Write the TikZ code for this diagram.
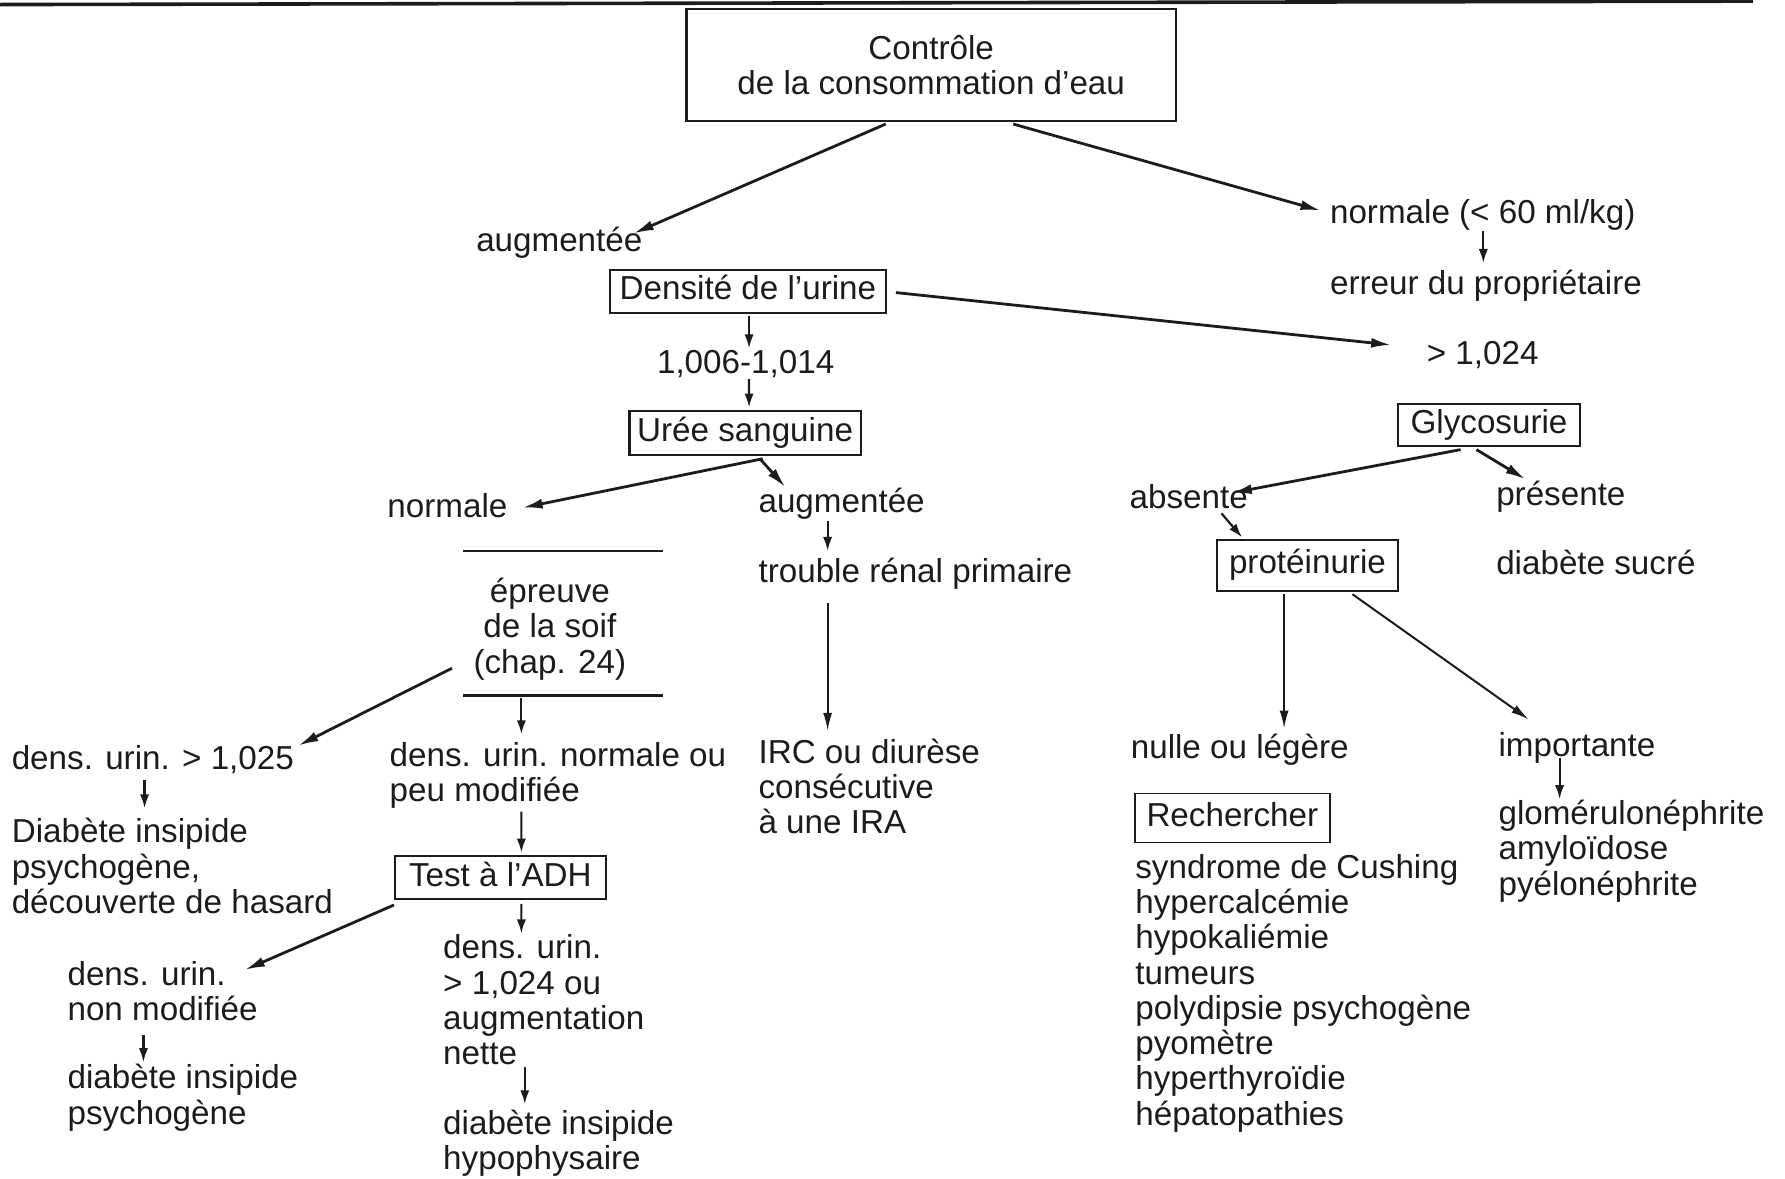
\documentclass[tikz,border=0pt]{standalone}
\usepackage{fontspec}
\setmainfont{Liberation Sans}
\usetikzlibrary{arrows.meta,calc}
\definecolor{ink}{RGB}{28,28,28}
\newcommand\mf{\fontsize{16.6}{17.65}\selectfont}
\newcommand\st{\rule{0pt}{14pt}}
\begin{document}
\begin{tikzpicture}[x=0.5692pt,y=-0.5692pt,
  lt/.style={inner sep=0pt, text=ink, font=\mf, anchor=north west, align=left},
  ct/.style={inner sep=0pt, text=ink, font=\mf, anchor=north, align=center},
  bx/.style={draw=ink, line width=1.1pt, inner sep=0pt, text=ink, font=\mf, text height=12pt, text depth=3.5pt},
  arr/.style={draw=ink, line width=1.4pt, -{Latex[length=10pt,width=5pt]}},
  larr/.style={draw=ink, line width=1pt, -{Latex[length=9pt,width=4.5pt]}},
  sarr/.style={draw=ink, line width=1.1pt, -{Latex[length=7pt,width=4.6pt]}},
  rule/.style={draw=ink, line width=1.1pt}]
\useasboundingbox (0,0) rectangle (1568,1035);
\fill[white] (0,0) rectangle (1568,1035);
\draw[draw=ink, line width=1.8pt] (0,4) -- (1540,1);

% nodes
\node[draw=ink, line width=1.1pt, inner sep=0pt, text=ink, font=\mf, align=center,
      minimum width={430*0.5692pt}, minimum height={98*0.5692pt}] (c1) at (818,57)
      {Contrôle\\de la consommation d'eau};
\node[lt] (augm1) at (418,196.4) {\st augmentée};
\node[lt] (norm1) at (1168,171.4) {\st normale (< 60 ml/kg)};
\node[lt] (err) at (1168,233.4) {\st erreur du propriétaire};
\node[bx, minimum width={242*0.5692pt}, minimum height={38*0.5692pt}] (dens) at (657,256) {Densité de l'urine};
\node[lt] (gt1024) at (1253,295.4) {\st > 1,024};
\node[ct] (r1006) at (655,303.4) {\st 1,006-1,014};
\node[bx, minimum width={203*0.5692pt}, minimum height={39*0.5692pt}] (uree) at (654.5,380.5) {Urée sanguine};
\node[lt] (norm2) at (340,429.4) {\st normale};
\node[lt] (augm2) at (666,425.4) {\st augmentée};
\node[lt] (trouble) at (666,486.4) {\st trouble rénal primaire};
\node[lt] (irc) at (666,645.4) {\st IRC ou diurèse\\consécutive\\à une IRA};
\node[ct] (ep) at (483,504.4) {\st épreuve\\de la soif\\(chap. 24)};
\draw[rule] (407,484) -- (582,484);
\draw[rule] (407,611) -- (582,611);
\node[lt] (d1025) at (10,651.4) {\st dens. urin. > 1,025};
\node[lt] (dip) at (10,715.4) {\st Diabète insipide\\psychogène,\\découverte de hasard};
\node[lt] (dnorm) at (342,648.4) {\st dens. urin. normale ou\\peu modifiée};
\node[bx, minimum width={185*0.5692pt}, minimum height={38*0.5692pt}] (adh) at (439.5,771) {Test à l'ADH};
\node[lt] (dnm) at (59,840.4) {\st dens. urin.\\non modifiée};
\node[lt] (dip2) at (59,931.4) {\st diabète insipide\\psychogène};
\node[lt] (d1024) at (389,817.4) {\st dens. urin.\\> 1,024 ou\\augmentation\\nette};
\node[lt] (dih) at (389,971.4) {\st diabète insipide\\hypophysaire};
\node[bx, minimum width={160*0.5692pt}, minimum height={37*0.5692pt}] (gly) at (1308,373.5) {Glycosurie};
\node[lt] (abs) at (992,421.4) {\st absente};
\node[lt] (pres) at (1314,419.4) {\st présente};
\node[lt] (dsuc) at (1314,479.4) {\st diabète sucré};
\node[bx, minimum width={159*0.5692pt}, minimum height={45*0.5692pt}] (prot) at (1148.5,496.5) {protéinurie};
\node[lt] (nulle) at (993,641.4) {\st nulle ou légère};
\node[lt] (imp) at (1316,639.4) {\st importante};
\node[lt] (glom) at (1316,699.4) {\st glomérulonéphrite\\amyloïdose\\pyélonéphrite};
\node[bx, line width=0.9pt, minimum width={171*0.5692pt}, minimum height={43*0.5692pt}] (rech) at (1082.5,718.5) {Rechercher};
\node[lt] (list) at (997,746.4) {\st syndrome de Cushing\\hypercalcémie\\hypokaliémie\\tumeurs\\polydipsie psychogène\\pyomètre\\hyperthyroïdie\\hépatopathies};

% connectors
\draw[arr] ($(c1.south)+(-40,2)$) -- ($(augm1.north east)+(-8,8.6)$);
\draw[arr] ($(c1.south)+(72,2)$) -- ($(norm1.north west)+(-8,13.6)$);
\draw[sarr] ($(norm1.north west)+(135,31.6)$) -- ($(err.north west)+(135,-2.4)$);
\draw[arr] ($(dens.east)+(8,1)$) -- ($(gt1024.north west)+(-31,7.6)$);
\draw[sarr] ($(dens.south)+(1,2)$) -- ($(r1006.north)+(3,2.6)$);
\draw[sarr] ($(r1006.north)+(3,29.6)$) -- ($(uree.north)+(3.5,-2)$);
\draw[arr] ($(uree.south)+(15.5,2)$) -- ($(norm2.north east)+(13,16.6)$);
\draw[arr] ($(uree.south)+(13,2)$) -- ($(augm2.north west)+(24,2.6)$);
\draw[sarr] ($(augm2.north west)+(61,32.6)$) -- ($(trouble.north west)+(61,-2.4)$);
\draw[larr] ($(trouble.north west)+(61,43.6)$) -- ($(irc.north west)+(61,-3.4)$);
\draw[arr] ($(ep.north)+(-86,82.6)$) -- ($(d1025.north west)+(252,3.6)$);
\draw[sarr] ($(ep.north)+(-25,108.6)$) -- ($(dnorm.north west)+(116,-3.4)$);
\draw[sarr] ($(d1025.north west)+(117,33.6)$) -- ($(dip.north west)+(117,-5.4)$);
\draw[sarr] ($(dnorm.north west)+(116,64.6)$) -- ($(adh.north)+(18.5,-2)$);
\draw[arr] ($(adh.south west)+(0,4)$) -- ($(dnm.north west)+(156,11.6)$);
\draw[sarr] ($(adh.south)+(18.5,3)$) -- ($(d1024.north west)+(69,2.6)$);
\draw[sarr] ($(dnm.north west)+(67,68.6)$) -- ($(dip2.north west)+(67,1.6)$);
\draw[sarr] ($(d1024.north west)+(72,119.6)$) -- ($(dih.north west)+(72,-1.4)$);
\draw[arr] ($(gly.south)+(-25,2)$) -- ($(abs.north west)+(90,11.6)$);
\draw[arr] ($(gly.south)+(-11,2)$) -- ($(pres.north west)+(26,1.6)$);
\draw[sarr] ($(abs.north west)+(81,29.6)$) -- ($(prot.north west)+(23,-1)$);
\draw[larr] ($(prot.south)+(-20.5,2)$) -- ($(nulle.north west)+(135,-1.4)$);
\draw[larr] ($(prot.south)+(39.5,2)$) -- ($(imp.north west)+(27,-7.4)$);
\draw[sarr] ($(imp.north west)+(54,26.6)$) -- ($(glom.north west)+(54,2.6)$);
\end{tikzpicture}
\end{document}
